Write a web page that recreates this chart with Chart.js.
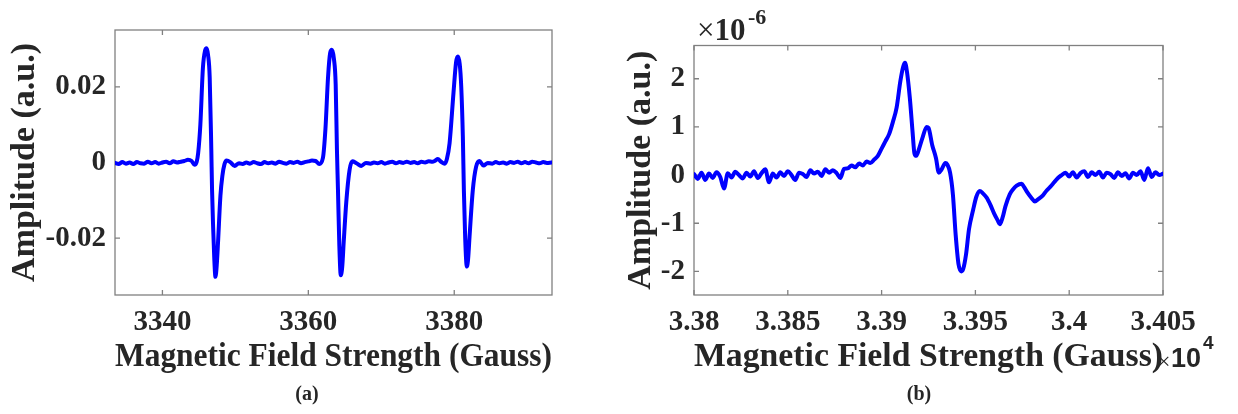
<!DOCTYPE html>
<html>
<head>
<meta charset="utf-8">
<script src="https://cdn.jsdelivr.net/npm/chart.js@4"></script>
<style>
  html, body { margin: 0; padding: 0; background: #fff; }
  #page { position: relative; width: 1238px; height: 414px; overflow: hidden; font-family: "Liberation Serif", serif; color: #262626; }
  .panel { position: absolute; top: 0; height: 414px; }
  .cap { position: absolute; top: 382px; font-weight: bold; font-size: 20px; line-height: 22px; transform: translateX(-50%); }
  .mult { position: absolute; white-space: nowrap; line-height: 1; }
</style>
</head>
<body>
<div id="page">
  <div class="panel" style="left:0;width:620px"><canvas id="chartA"></canvas></div>
  <div class="panel" style="left:620px;width:618px"><canvas id="chartB"></canvas></div>
  <div class="cap" style="left:307px">(a)</div>
  <div class="cap" style="left:919px">(b)</div>
  <div class="mult" style="left:697px;top:14px;font-size:31px">&times;<b>10</b></div>
  <div class="mult" style="left:748px;top:6px;font-size:22px;font-weight:bold">-6</div>
  <div class="mult" style="left:1157px;top:349px;font-size:24px">&times;</div>
  <div class="mult" style="left:1171px;top:345px;font-size:27px;font-family:'Liberation Sans',sans-serif;font-weight:bold">10</div>
  <div class="mult" style="left:1203px;top:333px;font-size:19px;font-family:'Liberation Sans',sans-serif;font-weight:bold">4</div>
</div>
<script>
// (a) three-line spectrum
const fieldA = [
  3333.5, 3334, 3334.5, 3335, 3335.5, 3336, 3336.5, 3337, 3337.5, 3338, 3338.5, 3339, 3339.5,
  3340, 3340.5, 3341, 3341.5, 3342, 3342.5, 3343, 3343.5, 3344, 3344.4,
  3344.7, 3344.9, 3345.2, 3345.55, 3345.85, 3346.05, 3346.25, 3346.48, 3346.7, 3346.8, 3346.95,
  3347.1, 3347.27, 3347.45, 3347.62, 3347.95, 3348.22, 3348.5, 3348.8, 3349.3, 3349.9, 3350.5,
  3351, 3351.5, 3352, 3352.5, 3353, 3353.5, 3354, 3354.5, 3355, 3355.5, 3356, 3356.5, 3357,
  3357.5, 3358, 3358.5, 3359, 3359.5, 3360, 3360.5, 3361, 3361.5,
  3362.0, 3362.35, 3362.7, 3363.0, 3363.23, 3363.5, 3363.75, 3363.92, 3364.06, 3364.25, 3364.45,
  3364.65, 3364.85, 3365.2, 3365.65, 3366.03, 3366.6, 3367.25, 3367.9,
  3368.5, 3369, 3369.5, 3370, 3370.5, 3371, 3371.5, 3372, 3372.5, 3373, 3373.5, 3374, 3374.5,
  3375, 3375.5, 3376, 3376.5, 3377, 3377.4, 3377.75, 3378.2, 3378.7,
  3379.0, 3379.36, 3379.9, 3380.25, 3380.5, 3380.75, 3380.96, 3381.18, 3381.32, 3381.5, 3381.73,
  3381.9, 3382.1, 3382.55, 3383.0, 3383.45, 3384.0, 3384.6,
  3385.2, 3385.7, 3386.2, 3386.7, 3387.2, 3387.7, 3388.2, 3388.7, 3389.2, 3389.7, 3390.2,
  3390.7, 3391.2, 3391.7, 3392.2, 3392.7, 3393.3
];
const ampA = [
  -0.0001, -0.0004, 0.0001, -0.0003, 0.0000, -0.0004, 0.0001, -0.0002, -0.0003, 0.0002, -0.0002, 0.0001, -0.0003,
  0.0000, 0.0002, -0.0002, 0.0003, 0.0000, 0.0002, 0.0004, 0.0007, 0.0004, -0.0006,
  0.0002, 0.0025, 0.0100, 0.0250, 0.0296, 0.0302, 0.0285, 0.0225, 0.0035, -0.0070, -0.0170,
  -0.0250, -0.0302, -0.0270, -0.0212, -0.0088, -0.0035, -0.0005, 0.0005, 0.0001, -0.0009, -0.0002,
  -0.0004, 0.0000, -0.0003, 0.0001, -0.0002, -0.0004, 0.0001, -0.0002, 0.0000, -0.0003, 0.0002, -0.0001, -0.0003,
  0.0001, -0.0001, 0.0002, -0.0002, 0.0001, 0.0003, 0.0005, 0.0004, -0.0004,
  0.0012, 0.0090, 0.0225, 0.0290, 0.0298, 0.0275, 0.0205, 0.0035, -0.0070, -0.0220, -0.0298,
  -0.0275, -0.0210, -0.0105, -0.0020, 0.0003, -0.0002, -0.0009, -0.0001,
  -0.0003, 0.0000, -0.0002, 0.0001, -0.0003, 0.0000, 0.0002, -0.0002, 0.0001, -0.0001, 0.0002, -0.0001, 0.0001,
  -0.0002, 0.0002, 0.0000, 0.0003, 0.0002, 0.0005, 0.0009, 0.0002, -0.0003,
  0.0010, 0.0051, 0.0185, 0.0265, 0.0280, 0.0260, 0.0200, 0.0069, -0.0073, -0.0200, -0.0275,
  -0.0255, -0.0195, -0.0072, -0.0011, 0.0004, -0.0008, -0.0001,
  -0.0003, 0.0001, -0.0002, 0.0000, -0.0003, 0.0001, -0.0001, 0.0002, -0.0002, 0.0001, -0.0002,
  0.0002, 0.0000, -0.0002, 0.0001, -0.0001, 0.0000
];
const xTicksA = [3340, 3360, 3380];
const yTicksA = [-0.02, 0, 0.02];

// (b) weak signal, amplitude in units of 1e-6, field in gauss
const fieldB = [
  33800, 33802, 33804, 33806, 33808, 33810, 33812, 33814, 33816, 33818, 33820, 33822, 33824,
  33826, 33828, 33830, 33832, 33834, 33836, 33838, 33840, 33842, 33844, 33846, 33848, 33850,
  33852, 33854, 33856, 33858, 33860, 33862, 33864, 33866, 33868, 33870, 33872, 33874, 33876,
  33878, 33880, 33882, 33884, 33886, 33888, 33890, 33892, 33894, 33896, 33898, 33900, 33902,
  33904, 33906, 33908, 33910, 33911.5, 33912.5, 33913.5, 33915, 33916.5, 33917.5, 33918.5,
  33920, 33922, 33924, 33925, 33927, 33929, 33930.5, 33932, 33934, 33935, 33936.5, 33938,
  33939.5, 33941, 33942.5, 33943.5, 33945, 33946.6, 33948.8, 33950.5, 33952.3, 33954, 33956,
  33958, 33960, 33962, 33963, 33964.5, 33966, 33968.3, 33970, 33972, 33974.6, 33976, 33977.5,
  33980, 33981.7, 33983.5, 33986, 33988, 33990, 33992, 33994, 33996,
  33998, 34000, 34002, 34004, 34006, 34008, 34010, 34012, 34014, 34016, 34018, 34020, 34022,
  34024, 34026, 34028, 34030, 34032, 34034, 34036, 34038, 34040, 34042, 34044, 34046, 34048, 34050
];
const ampB = [
  0.02, -0.08, 0.05, -0.10, 0.03, -0.06, 0.06, -0.04, -0.28, 0.04, -0.05, 0.07, 0.00,
  -0.07, 0.05, -0.03, 0.08, -0.06, 0.04, 0.12, -0.15, 0.03, -0.05, 0.06, -0.02, 0.08,
  0.00, -0.10, 0.05, 0.02, -0.04, 0.10, 0.03, 0.07, -0.02, 0.12, 0.05, 0.10, 0.04,
  -0.06, 0.13, 0.14, 0.20, 0.16, 0.24, 0.20, 0.28, 0.25, 0.32, 0.40, 0.55, 0.70,
  0.85, 1.10, 1.40, 1.95, 2.25, 2.33, 2.15, 1.62, 0.90, 0.45, 0.40,
  0.55, 0.80, 1.00, 0.98, 0.62, 0.35, 0.05, 0.12, 0.25, 0.22, 0.05, -0.40,
  -1.25, -1.85, -2.00, -1.95, -1.65, -1.12, -0.72, -0.45, -0.33, -0.38, -0.47,
  -0.62, -0.80, -0.95, -1.02, -0.88, -0.65, -0.40, -0.30, -0.22, -0.18, -0.25, -0.35,
  -0.48, -0.55, -0.50, -0.42, -0.32, -0.24, -0.15, -0.06, 0.00,
  0.05, -0.03, 0.06, -0.05, 0.04, 0.08, -0.04, 0.06, 0.00, 0.07, -0.05, 0.05, 0.02,
  -0.06, 0.06, -0.02, 0.04, -0.07, 0.05, 0.00, 0.08, -0.10, 0.14, -0.04, 0.06, 0.00, 0.03
];
const xTicksB = [33800, 33850, 33900, 33950, 34000, 34050];
const yTicksB = [-2, -1, 0, 1, 2];

const textColor = '#262626';
const frameColor = '#808080';
const tickFont = { family: 'Liberation Serif', size: 29, weight: 'bold' };
const titleFont = { family: 'Liberation Serif', size: 34, weight: 'bold' };

// MATLAB style box with inward ticks on all four sides
const framePlugin = {
  id: 'frame',
  beforeDatasetsDraw(chart) {
    const { ctx, chartArea: a, scales } = chart;
    ctx.save();
    ctx.strokeStyle = frameColor;
    ctx.lineWidth = 1.3;
    ctx.strokeRect(a.left, a.top, a.right - a.left, a.bottom - a.top);
    ctx.beginPath();
    scales.x.ticks.forEach(t => {
      const px = scales.x.getPixelForValue(t.value);
      ctx.moveTo(px, a.bottom); ctx.lineTo(px, a.bottom - 5);
      ctx.moveTo(px, a.top); ctx.lineTo(px, a.top + 5);
    });
    scales.y.ticks.forEach(t => {
      const py = scales.y.getPixelForValue(t.value);
      ctx.moveTo(a.left, py); ctx.lineTo(a.left + 5, py);
      ctx.moveTo(a.right, py); ctx.lineTo(a.right - 5, py);
    });
    ctx.stroke();
    ctx.restore();
  }
};

function makeChart(id, xs, ys, opt) {
  const pts = xs.map((x, i) => ({ x: x, y: ys[i] }));
  return new Chart(document.getElementById(id), {
    type: 'line',
    data: { datasets: [{ data: pts, borderColor: '#0000ff', borderWidth: 4, pointRadius: 0,
      cubicInterpolationMode: 'monotone', borderJoinStyle: 'round', borderCapStyle: 'round' }] },
    options: {
      responsive: true, maintainAspectRatio: false, animation: false,
      layout: { padding: { top: opt.top, right: opt.right, left: 0, bottom: 0 } },
      plugins: { legend: { display: false }, tooltip: { enabled: false } },
      scales: {
        x: {
          type: 'linear', min: opt.xMin, max: opt.xMax,
          grid: { display: false, drawTicks: false }, border: { display: false },
          afterBuildTicks: s => { s.ticks = opt.xTicks.map(v => ({ value: v })); },
          afterFit: s => { s.height = 119; },
          ticks: { font: tickFont, color: textColor, padding: 10, maxRotation: 0, autoSkip: false, callback: opt.xFmt },
          title: { display: true, text: 'Magnetic Field Strength (Gauss)', font: titleFont, color: textColor, padding: { top: 0, bottom: 36 } }
        },
        y: {
          type: 'linear', min: opt.yMin, max: opt.yMax,
          grid: { display: false, drawTicks: false }, border: { display: false },
          afterBuildTicks: s => { s.ticks = opt.yTicks.map(v => ({ value: v })); },
          afterFit: s => { s.width = opt.yWidth; },
          ticks: { font: tickFont, color: textColor, padding: 9, autoSkip: false, callback: v => String(v) },
          title: { display: true, text: 'Amplitude (a.u.)', font: titleFont, color: textColor, padding: { top: opt.yTitlePad, bottom: 0 } }
        }
      }
    },
    plugins: [framePlugin]
  });
}

makeChart('chartA', fieldA, ampA, {
  top: 30, right: 68, xMin: 3333.5, xMax: 3393.4, yMin: -0.035, yMax: 0.035,
  xTicks: xTicksA, yTicks: yTicksA, yWidth: 115, yTitlePad: 5, xFmt: v => String(v)
});
makeChart('chartB', fieldB, ampB, {
  top: 45.5, right: 75, xMin: 33800, xMax: 34050, yMin: -2.49, yMax: 2.69,
  xTicks: xTicksB, yTicks: yTicksB, yWidth: 74, yTitlePad: 1, xFmt: v => String(parseFloat((v / 1e4).toFixed(3)))
});
</script>
</body>
</html>
